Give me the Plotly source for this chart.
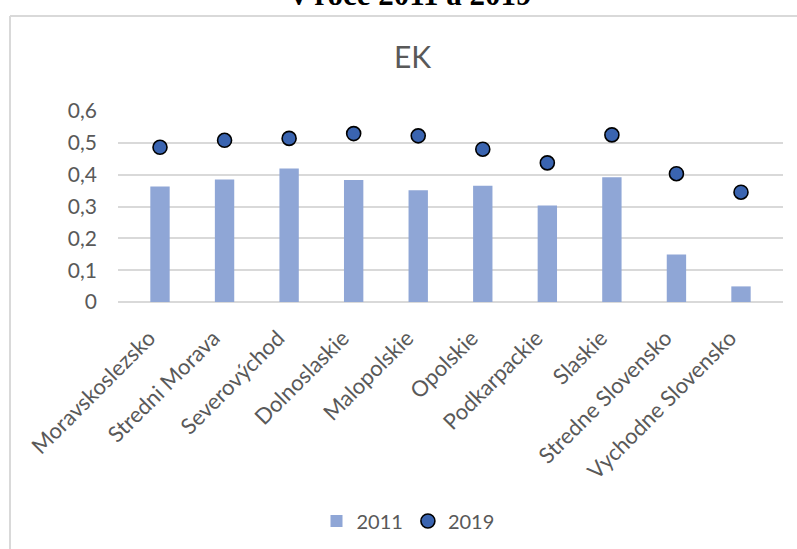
import plotly.graph_objects as go

regions = ["Moravskoslezsko", "Stredni Morava", "Severovýchod", "Dolnoslaskie",
           "Malopolskie", "Opolskie", "Podkarpackie", "Slaskie",
           "Stredne Slovensko", "Vychodne Slovensko"]
values_2011 = [0.363, 0.385, 0.419, 0.383, 0.351, 0.365, 0.303, 0.392, 0.149, 0.049]
values_2019 = [0.486, 0.508, 0.514, 0.529, 0.522, 0.480, 0.437, 0.525, 0.403, 0.345]
y_tickvals = [0, 0.1, 0.2, 0.3, 0.4, 0.5, 0.6]
y_ticktext = ["0", "0,1", "0,2", "0,3", "0,4", "0,5", "0,6"]

TXT = "#595959"
GRID = "#d9d9d9"
FONT = "Lato"

fig = go.Figure()
fig.add_trace(go.Bar(
    x=regions, y=values_2011, name="2011",
    marker=dict(color="#8FA6D6", line=dict(width=0)),
    width=0.3,
))
fig.add_trace(go.Scatter(
    x=regions, y=values_2019, name="2019", mode="markers",
    marker=dict(size=14, color="#3A64B0", line=dict(color="#000000", width=1.6)),
    cliponaxis=False,
))

W, H = 797, 549
PX0, PX1 = 118, 783    # plot area left/right (px)
PY0, PY1 = 111, 302    # plot area top/bottom (px)
L = PX0
R = W - PX1
T = PY0
B = H - PY1
pw = PX1 - PX0
ph = PY1 - PY0

def px_x(p):
    return (p - PX0) / pw

def px_y(p):
    return (PY1 - p) / ph

fig.update_layout(
    width=W, height=H,
    margin=dict(l=L, r=R, t=T, b=B, autoexpand=False),
    paper_bgcolor="white", plot_bgcolor="white",
    font=dict(family=FONT, color=TXT, size=20),
    showlegend=True,
    legend=dict(orientation="h", x=px_x(408), xanchor="center",
                y=px_y(521), yanchor="middle",
                font=dict(size=20, color=TXT), itemwidth=30,
                bgcolor="rgba(0,0,0,0)"),
    xaxis=dict(type="category", tickangle=-45, showgrid=False, showline=False,
               ticks="", tickfont=dict(size=22, color=TXT, family=FONT),
               automargin=False, ticklabelstandoff=18, ticklabelshift=-11),
    yaxis=dict(range=[0, 0.6], tickvals=y_tickvals, ticktext=y_ticktext,
               showgrid=True, gridcolor=GRID, gridwidth=1.5,
               zeroline=True, zerolinecolor=GRID, zerolinewidth=1.5,
               showline=False, ticks="", automargin=False,
               tickfont=dict(size=21, color=TXT, family=FONT),
               ticklabelstandoff=20),
    annotations=[
        dict(text="EK", xref="paper", yref="paper", x=px_x(412), y=px_y(56),
             xanchor="center", yanchor="middle", showarrow=False,
             font=dict(size=30, color=TXT, family=FONT)),
        dict(text="<b>v roce 2011 a 2019</b>", xref="paper", yref="paper",
             x=px_x(411), y=px_y(-6), xanchor="center", yanchor="middle",
             showarrow=False,
             font=dict(size=31, color="#000000", family="Liberation Serif")),
    ],
    shapes=[
        dict(type="line", xref="paper", yref="paper",
             x0=px_x(10), x1=px_x(830), y0=px_y(16), y1=px_y(16),
             line=dict(color=GRID, width=2)),
        dict(type="line", xref="paper", yref="paper",
             x0=px_x(10), x1=px_x(10), y0=px_y(16), y1=px_y(600),
             line=dict(color=GRID, width=2)),
    ],
)

fig.write_html(
    "out.html",
    config={"displayModeBar": False},
    post_script="document.body.style.margin='0';document.body.style.overflow='hidden';",
)
